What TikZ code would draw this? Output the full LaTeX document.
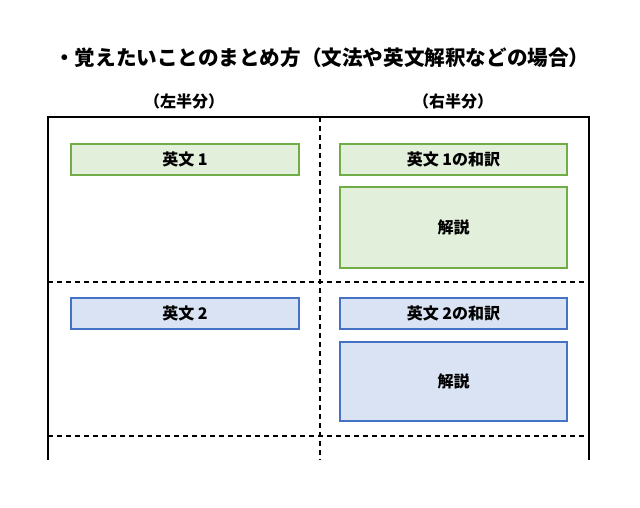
\documentclass[tikz,border=0pt]{standalone}
\usepackage{fontspec}
\newfontfamily\jp{Noto Sans CJK JP}
\definecolor{gfill}{HTML}{E2EFDA}
\definecolor{gline}{HTML}{70AD47}
\definecolor{bfill}{HTML}{DAE3F3}
\definecolor{bline}{HTML}{4472C4}
\tikzset{
  txt/.style={font=\jp\bfseries\fontsize{16}{18}\selectfont, text=black, inner sep=0pt},
  gbox/.style={draw=gline, fill=gfill, line width=2.2pt, txt},
  bluebox/.style={draw=bline, fill=bfill, line width=2.2pt, txt},
  frameline/.style={line width=2pt, black},
  dashline/.style={line width=1.3pt, black, dash pattern=on 5pt off 4pt},
}
\begin{document}
\begin{tikzpicture}[x=1pt,y=-1pt]
\useasboundingbox (0,0) rectangle (640,508);
\fill[white] (0,0) rectangle (640,508);
% title
\node[txt, font=\jp\bfseries\fontsize{20.6}{24}\selectfont, anchor=west] (title) at (54,58) {・覚えたいことのまとめ方（文法や英文解釈などの場合）};
\node[txt] (left) at (184,101) {（左半分）};
\node[txt] (right) at (453,101) {（右半分）};
% dashed grid
\draw[dashline] (320,117) -- (320,460);
\draw[dashline] (48,282) -- (589,282);
\draw[dashline] (48,436) -- (589,436);
% frame
\draw[frameline] (48,460) -- (48,117) -- (589,117) -- (589,460);
% boxes
\node[gbox, minimum width=228pt, minimum height=31pt] (e1) at (185,159.5) {英文 1};
\node[gbox, minimum width=227pt, minimum height=31pt] (w1) at (453.5,159.5) {英文 1の和訳};
\node[gbox, minimum width=227pt, minimum height=81pt] (k1) at (453.5,227.5) {解説};
\node[bluebox, minimum width=228pt, minimum height=31pt] (e2) at (185,313.5) {英文 2};
\node[bluebox, minimum width=227pt, minimum height=31pt] (w2) at (453.5,313.5) {英文 2の和訳};
\node[bluebox, minimum width=227pt, minimum height=79pt] (k2) at (453.5,381.5) {解説};
\end{tikzpicture}
\end{document}
